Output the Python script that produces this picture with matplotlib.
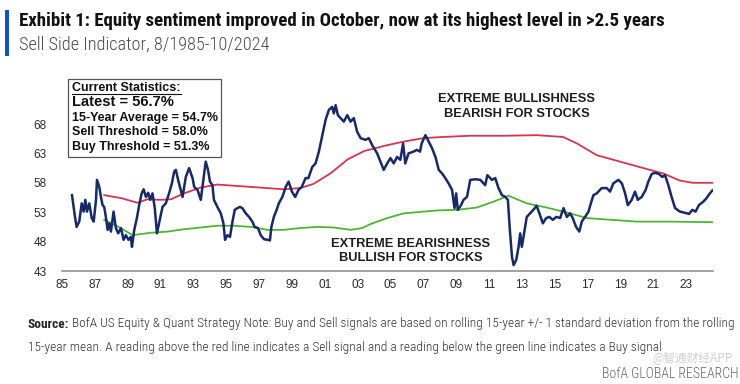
import matplotlib
matplotlib.use('Agg')
import matplotlib.pyplot as plt
from matplotlib import font_manager
from matplotlib.lines import Line2D
from matplotlib.patches import Rectangle

# Sell Side Indicator (decimal year, %)
ssi_years = [1985.61, 1985.79, 1985.89, 1986.05, 1986.20, 1986.32, 1986.42, 1986.52, 1986.66, 1986.81,
             1986.93, 1987.07, 1987.13, 1987.27, 1987.37, 1987.47, 1987.57, 1987.67, 1987.78, 1987.88,
             1987.98, 1988.14, 1988.28, 1988.42, 1988.59, 1988.75, 1988.89, 1989.05, 1989.19, 1989.26,
             1989.40, 1989.56, 1989.70, 1989.85, 1989.97, 1990.11, 1990.25, 1990.37, 1990.51, 1990.65,
             1990.78, 1990.91, 1991.12, 1991.32, 1991.52, 1991.69, 1991.83, 1991.93, 1992.07, 1992.34,
             1992.54, 1992.74, 1992.95, 1993.05, 1993.25, 1993.45, 1993.55, 1993.65, 1993.75, 1993.89,
             1994.01, 1994.16, 1994.25, 1994.46, 1994.67, 1994.83, 1994.93, 1995.07, 1995.23, 1995.38,
             1995.52, 1995.68, 1995.84, 1995.98, 1996.19, 1996.39, 1996.59, 1996.73, 1996.93, 1997.10,
             1997.30, 1997.54, 1997.66, 1997.75, 1997.90, 1998.07, 1998.20, 1998.42, 1998.62, 1998.80,
             1999.00, 1999.20, 1999.40, 1999.60, 1999.83, 2000.00, 2000.24, 2000.44, 2000.64, 2000.85,
             2001.05, 2001.25, 2001.45, 2001.55, 2001.66, 2001.80, 2001.96, 2002.16, 2002.37, 2002.57,
             2002.77, 2002.97, 2003.18, 2003.48, 2003.68, 2003.89, 2004.19, 2004.39, 2004.59, 2004.80,
             2005.00, 2005.20, 2005.40, 2005.60, 2005.77, 2005.90, 2006.10, 2006.40, 2006.60, 2006.80,
             2006.90, 2007.13, 2007.33, 2007.53, 2007.74, 2007.94, 2008.14, 2008.34, 2008.54, 2008.75,
             2008.90, 2009.00, 2009.10, 2009.30, 2009.45, 2009.66, 2009.86, 2010.17, 2010.47, 2010.77,
             2010.90, 2011.18, 2011.38, 2011.58, 2011.79, 2012.00, 2012.15, 2012.27, 2012.40, 2012.50,
             2012.66, 2012.80, 2012.90, 2013.00, 2013.15, 2013.30, 2013.50, 2013.70, 2013.90, 2014.07,
             2014.28, 2014.48, 2014.68, 2014.89, 2015.10, 2015.33, 2015.54, 2015.74, 2015.94, 2016.10,
             2016.30, 2016.50, 2016.65, 2016.85, 2017.06, 2017.20, 2017.36, 2017.56, 2017.86, 2018.17,
             2018.37, 2018.57, 2018.88, 2019.09, 2019.29, 2019.45, 2019.69, 2019.89, 2020.06, 2020.30,
             2020.54, 2020.70, 2020.91, 2021.11, 2021.35, 2021.55, 2021.72, 2021.92, 2022.12, 2022.33,
             2022.63, 2022.93, 2023.18, 2023.38, 2023.58, 2023.78, 2024.05, 2024.25, 2024.45, 2024.60]
ssi_vals = [55.9, 52.2, 50.5, 51.4, 54.5, 53.1, 55.1, 53.1, 54.5, 52.0,
            51.4, 55.1, 58.5, 57.3, 55.6, 54.2, 53.9, 52.2, 50.0, 51.1,
            49.7, 53.1, 50.3, 49.4, 50.3, 48.3, 49.1, 48.3, 48.8, 47.1,
            50.0, 52.0, 54.2, 56.2, 56.9, 55.6, 56.3, 55.1, 56.2, 53.7,
            49.4, 51.1, 53.9, 54.5, 56.2, 57.9, 59.9, 60.2, 58.5, 55.6,
            59.0, 60.5, 58.8, 57.3, 56.8, 55.1, 57.3, 59.6, 61.6, 60.2,
            58.2, 57.6, 55.1, 53.9, 52.8, 51.1, 48.3, 49.1, 48.8, 51.4,
            53.4, 53.7, 53.9, 53.7, 52.8, 52.2, 51.4, 50.5, 50.3, 49.1,
            48.4, 48.3, 48.2, 50.5, 52.2, 53.4, 54.5, 55.6, 57.3, 58.2,
            56.5, 55.6, 56.8, 57.3, 58.8, 58.8, 60.7, 61.3, 63.3, 66.1,
            68.7, 70.4, 70.9, 69.8, 71.2, 69.5, 69.0, 68.4, 69.5, 68.4,
            69.0, 66.7, 65.6, 65.3, 65.6, 64.4, 63.0, 61.6, 60.2, 61.3,
            62.2, 61.3, 62.4, 61.9, 64.7, 61.3, 63.0, 63.3, 63.6, 63.3,
            64.7, 66.1, 65.0, 63.9, 62.4, 60.2, 59.6, 58.8, 57.9, 56.8,
            53.7, 56.2, 53.4, 54.2, 55.1, 55.6, 58.5, 58.6, 58.5, 57.6,
            59.3, 58.5, 58.8, 57.1, 55.9, 55.6, 55.1, 50.0, 45.4, 44.0,
            44.9, 47.1, 49.4, 47.1, 49.7, 52.2, 52.8, 53.4, 54.1, 52.8,
            51.1, 52.0, 52.2, 51.7, 52.2, 52.0, 53.7, 52.2, 52.8, 52.0,
            50.5, 49.7, 51.4, 52.2, 53.1, 54.5, 55.9, 56.2, 57.1, 57.1,
            56.5, 57.9, 58.5, 57.9, 56.2, 54.2, 55.1, 56.5, 55.1, 55.6,
            56.8, 58.2, 59.5, 59.7, 59.5, 59.0, 59.3, 57.6, 55.6, 53.7,
            53.1, 52.9, 52.7, 53.4, 53.1, 54.2, 54.8, 55.4, 56.2, 56.7]

# Sell threshold (red)
sell_years = [1987.57, 1988.59, 1989.60, 1990.20, 1991.00, 1991.63, 1992.43, 1993.45, 1994.47,
              1995.47, 1996.50, 1997.50, 1998.50, 1999.50, 2000.30, 2001.35, 2002.40, 2003.40,
              2004.80, 2005.80, 2007.00, 2008.24, 2009.86, 2011.90, 2013.90, 2015.50, 2016.35,
              2017.56, 2018.98, 2020.40, 2021.60, 2022.60, 2023.40, 2024.60]
sell_vals = [55.9, 55.4, 54.6, 55.2, 55.1, 55.2, 56.2, 57.2, 57.7,
             57.5, 57.3, 57.1, 56.9, 57.1, 57.8, 59.6, 62.0, 63.4,
             64.4, 65.0, 65.6, 65.8, 66.0, 66.0, 66.1, 65.8, 64.7,
             62.7, 61.6, 60.5, 59.6, 58.4, 58.0, 58.0]

# Buy threshold (green)
buy_years = [1987.57, 1988.38, 1989.30, 1990.40, 1991.43, 1992.43, 1993.45, 1994.47, 1995.47,
             1996.50, 1997.50, 1998.50, 1999.50, 2000.54, 2001.55, 2002.57, 2003.28, 2003.80,
             2004.80, 2005.80, 2007.84, 2009.05, 2010.27, 2011.28, 2012.19, 2013.30, 2014.50,
             2015.94, 2016.96, 2017.97, 2019.99, 2022.00, 2024.60]
buy_vals = [51.7, 50.6, 49.1, 49.5, 49.7, 50.1, 50.4, 50.7, 50.7,
            50.5, 50.0, 50.0, 50.3, 50.5, 50.4, 50.0, 50.3, 51.0,
            52.0, 52.8, 53.3, 53.4, 53.8, 54.8, 55.8, 54.5, 53.8,
            52.8, 52.0, 51.8, 51.4, 51.4, 51.3]

x_ticks = list(range(1985, 2024, 2))
x_labels = [f"{y % 100:02d}" for y in x_ticks]
y_ticks = [43, 48, 53, 58, 63, 68]

stats_lines = ["15-Year Average = 54.7%", "Sell Threshold = 58.0%", "Buy Threshold = 51.3%"]

W, H = 740, 384
avail = {f.name for f in font_manager.fontManager.ttflist}
narrow = next((n for n in ['Liberation Sans Narrow', 'Roboto Condensed', 'Open Sans Condensed']
               if n in avail), 'Liberation Sans')
plt.rcParams['font.family'] = ['Liberation Sans', 'DejaVu Sans']


def fx(x):
    return x / W


def fy(y):
    return 1 - y / H


fig = plt.figure(figsize=(W / 100, H / 100), dpi=100)
ax = fig.add_axes([fx(62), fy(271), (713 - 62) / W, (271 - 94.6) / H])

ax.plot(sell_years, sell_vals, color='#d7344f', lw=1.3, zorder=2)
ax.plot(buy_years, buy_vals, color='#4eb530', lw=1.3, zorder=2)
ax.plot(ssi_years, ssi_vals, color='#15296b', lw=1.8, zorder=3)

ax.set_xlim(1985.0, 2024.64)
ax.set_ylim(43, 73)
ax.set_xticks(x_ticks)
ax.set_xticklabels(x_labels)
ax.set_yticks(y_ticks)
ax.tick_params(axis='both', length=0, labelsize=8.5, colors='#2a2a2a')
ax.tick_params(axis='y', pad=11)
ax.tick_params(axis='x', pad=6)
for side in ['top', 'right', 'left']:
    ax.spines[side].set_visible(False)
ax.spines['bottom'].set_color('#8f8f8f')
ax.spines['bottom'].set_linewidth(1.2)

# annotations
ann = dict(fontsize=9.3, weight='bold', color='#1e1e1e', ha='center', va='center')
fig.text(fx(517), fy(99), "EXTREME BULLISHNESS", **ann)
fig.text(fx(517), fy(114), "BEARISH FOR STOCKS", **ann)
fig.text(fx(411), fy(244), "EXTREME BEARISHNESS", **ann)
fig.text(fx(411), fy(258), "BULLISH FOR STOCKS", **ann)

# statistics box
fig.add_artist(Rectangle((fx(68), fy(157)), 153 / W, 78 / H, transform=fig.transFigure,
                         facecolor='white', edgecolor='#555555', lw=0.9, zorder=5))
st = dict(weight='bold', color='#111111', va='center', ha='left', zorder=6)
cur = fig.text(fx(72), fy(88), "Current Statistics:", fontsize=9, **st)
fig.text(fx(72), fy(102.5), "Latest = 56.7%", fontsize=10.6, **st)
for i, line in enumerate(stats_lines):
    fig.text(fx(72), fy(117.7 + 14.8 * i), line, fontsize=9, **st)

# header
fig.add_artist(Rectangle((fx(5), fy(56)), 4 / W, 46 / H, transform=fig.transFigure,
                         facecolor='#0a52d1', edgecolor='none'))
title = fig.text(fx(19), fy(21), "Exhibit 1: Equity sentiment improved in October, now at its highest level in >2.5 years",
                 fontsize=12, weight='bold', family=narrow, color='#111111', va='center')
subtitle = fig.text(fx(19), fy(45), "Sell Side Indicator, 8/1985-10/2024",
                    fontsize=11, family=narrow, weight='light', color='#4a4a4a', va='center')

# footer
src = fig.text(fx(28), fy(324), "Source:", fontsize=9, weight='bold', family=narrow, color='#222222', va='center')
note1 = fig.text(fx(60), fy(324), " BofA US Equity & Quant Strategy Note: Buy and Sell signals are based on rolling "
                 "15-year +/- 1 standard deviation from the rolling",
                 fontsize=9, family=narrow, weight='light', color='#333333', va='center')
note2 = fig.text(fx(28), fy(347), "15-year mean. A reading above the red line indicates a Sell signal and a reading "
                 "below the green line indicates a Buy signal",
                 fontsize=9, family=narrow, weight='light', color='#333333', va='center')
brand = fig.text(fx(738), fy(374), "BofA GLOBAL RESEARCH", fontsize=9, family=narrow, weight='light',
                 color='#666666', va='center', ha='right')
fig.text(fx(733), fy(358), "@智通财经APP", fontsize=8.5, color='#c4c4c4', alpha=0.8,
         family=['Noto Sans CJK SC', 'DejaVu Sans'], va='center', ha='right')

# size the texts to the widths seen in the reference
fig.canvas.draw()
r = fig.canvas.get_renderer()


def fit(t, target):
    w = t.get_window_extent(r).width
    t.set_fontsize(t.get_fontsize() * target / w)


fit(title, 647)
fit(subtitle, 249)
fit(brand, 137)
total = src.get_window_extent(r).width + note1.get_window_extent(r).width
k = 705 / total
for t in (src, note1, note2):
    t.set_fontsize(t.get_fontsize() * k)
fig.canvas.draw()
note1.set_x(src.get_window_extent(r).x1 / W)

bb = cur.get_window_extent(r)
fig.add_artist(Line2D([bb.x0 / W, bb.x1 / W], [(bb.y0 + 0.5) / H] * 2, transform=fig.transFigure,
                      color='#111111', lw=0.8, zorder=6))

fig.savefig('out.png', dpi=100)
